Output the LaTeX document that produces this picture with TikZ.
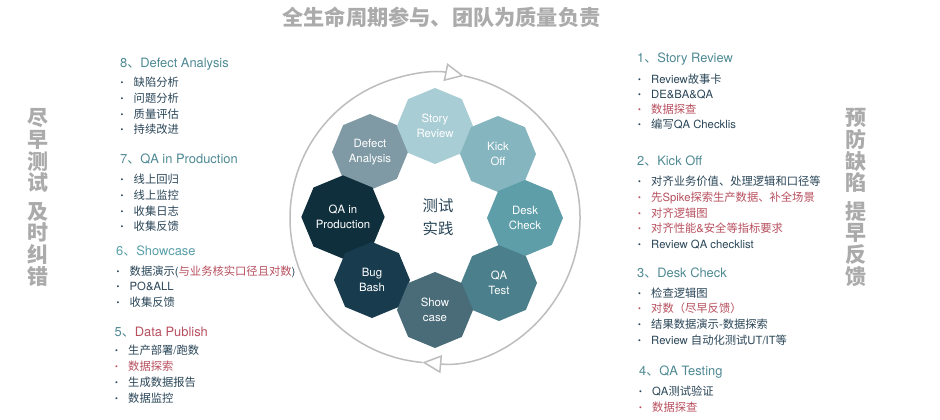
\documentclass[tikz,border=0pt]{standalone}
\usepackage{fontspec}
\setmainfont{TeX Gyre Heros}
\newfontfamily\cjk{Noto Sans CJK SC}
\usetikzlibrary{shapes.geometric,arrows.meta}
\definecolor{headteal}{HTML}{4F8A94}
\definecolor{headlight}{HTML}{5AA0AA}
\definecolor{textdark}{HTML}{2A4658}
\definecolor{textred}{HTML}{B8505F}
\definecolor{sidegray}{HTML}{ABABAB}
\definecolor{ringgray}{HTML}{BDBDBD}
\newcommand{\dotmark}{\makebox[13pt][l]{\raisebox{1.2pt}{\fontsize{8}{8}\selectfont\textbullet}}}
\tikzset{
  octa/.style={regular polygon,regular polygon sides=8,shape border rotate=22.5,minimum size=76pt,
    inner sep=0pt,outer sep=0pt,align=center,text=white,font=\fontsize{11.4}{15}\selectfont},
  head/.style={anchor=west,inner sep=0pt,text=headteal,text height=12pt,text depth=2pt,font=\fontsize{12.9}{15}\selectfont},
  item/.style={anchor=west,inner sep=0pt,text=textdark,text height=10pt,text depth=1.4pt,font=\fontsize{11.3}{14}\selectfont},
  itemred/.style={item,text=textred},
  side/.style={align=center,inner sep=0pt,text=sidegray,font=\fontsize{21}{21.6}\selectfont\cjk\bfseries},
  ringline/.style={draw=ringgray,line width=1.5pt,-{Triangle[open,length=19pt,width=18pt]}}
}
\begin{document}
\begin{tikzpicture}[x=1pt,y=1pt]
\path[use as bounding box,fill=white] (0,0) rectangle (940,-420);

\node[text=sidegray,inner sep=0pt,font=\fontsize{21.2}{21}\selectfont\cjk\bfseries] (title) at (441.5,-17) {全生命周期参与、团队为质量负责};
\node[side] (leftside) at (38,-197.5) {尽\\早\\测\\试\\[7pt]及\\时\\纠\\错};
\node[side] (rightside) at (856,-197.5) {预\\防\\缺\\陷\\[7pt]提\\早\\反\\馈};

% ring
\coordinate (hub) at (435,-218);
\draw[ringline] (hub) ++(265:145) arc [start angle=265,end angle=78.5,radius=145];
\draw[ringline] (hub) ++(78.5:145) arc [start angle=78.5,end angle=-95,radius=145];

% octagons
\node[octa,fill={rgb,255:red,127;green,154;blue,165}] (defect) at (370,-152) {Defect\\Analysis};
\node[octa,fill={rgb,255:red,169;green,205;blue,212}] (story) at (435,-126) {Story\\Review};
\node[octa,fill={rgb,255:red,133;green,181;blue,191}] (kick) at (498,-154) {Kick\\Off};
\node[octa,fill={rgb,255:red,94;green,158;blue,169}] (desk) at (525,-218) {Desk\\Check};
\node[octa,fill={rgb,255:red,75;green,127;blue,139}] (qatest) at (499,-283) {QA\\Test};
\node[octa,fill={rgb,255:red,16;green,47;blue,61}] (qaprod) at (343,-217) {QA in\\Production};
\node[octa,fill={rgb,255:red,24;green,60;blue,78}] (bug) at (372,-280) {Bug\\Bash};
\node[octa,fill={rgb,255:red,74;green,108;blue,121}] (show) at (435,-310) {Show\\case};
\node[align=center,inner sep=0pt,text=textdark,font=\fontsize{15.4}{23}\selectfont\cjk] (practice) at (438,-217) {测试\\实践};

% left lists
\node[head] (h8) at (120,-62) {8{\cjk 、}Defect Analysis};
\node[item] (a1) at (120.5,-82) {\dotmark{\cjk 缺陷分析}};
\node[item] (a2) at (120.5,-98) {\dotmark{\cjk 问题分析}};
\node[item] (a3) at (120.5,-114) {\dotmark{\cjk 质量评估}};
\node[item] (a4) at (120.5,-129.5) {\dotmark{\cjk 持续改进}};

\node[head] (h7) at (120,-158) {7{\cjk 、}QA in Production};
\node[item] (b1) at (120.5,-179) {\dotmark{\cjk 线上回归}};
\node[item] (b2) at (120.5,-195) {\dotmark{\cjk 线上监控}};
\node[item] (b3) at (120.5,-211) {\dotmark{\cjk 收集日志}};
\node[item] (b4) at (120.5,-226) {\dotmark{\cjk 收集反馈}};

\node[head,text=headlight] (h6) at (116,-250) {6{\cjk 、}Showcase};
\node[item] (c1) at (116.5,-271) {\dotmark{\cjk 数据演示}({\cjk\color{textred}与业务核实口径且对数}{\cjk})};
\node[item] (c2) at (116.5,-286) {\dotmark PO\&ALL};
\node[item] (c3) at (116.5,-302) {\dotmark{\cjk 收集反馈}};

\node[head] (h5) at (114.5,-331) {5{\cjk 、}\textcolor{textred}{Data Publish}};
\node[item] (d1) at (115,-350) {\dotmark{\cjk 生产部署}/{\cjk 跑数}};
\node[itemred] (d2) at (115,-366) {\dotmark{\cjk 数据探索}};
\node[item] (d3) at (115,-382) {\dotmark{\cjk 生成数据报告}};
\node[item] (d4) at (115,-398) {\dotmark{\cjk 数据监控}};

% right lists
\node[head] (h1) at (637,-58) {1{\cjk 、}Story Review};
\node[item] (e1) at (638,-79) {\dotmark Review{\cjk 故事卡}};
\node[item] (e2) at (638,-94.5) {\dotmark DE\&BA\&QA};
\node[itemred] (e3) at (638,-109) {\dotmark{\cjk 数据探查}};
\node[item] (e4) at (638,-124.5) {\dotmark{\cjk 编写}QA Checklis};

\node[head] (h2) at (637,-160.5) {2{\cjk 、}Kick Off};
\node[item] (f1) at (638,-181) {\dotmark{\cjk 对齐业务价值、处理逻辑和口径等}};
\node[itemred] (f2) at (638,-197) {\dotmark{\cjk 先}Spike{\cjk 探索生产数据、补全场景}};
\node[itemred] (f3) at (638,-213) {\dotmark{\cjk 对齐逻辑图}};
\node[itemred] (f4) at (638,-228.5) {\dotmark{\cjk 对齐性能}\&{\cjk 安全等指标要求}};
\node[item] (f5) at (638,-244) {\dotmark Review QA checklist};

\node[head] (h3) at (637,-272.5) {3{\cjk 、}Desk Check};
\node[item] (g1) at (638,-293) {\dotmark{\cjk 检查逻辑图}};
\node[itemred] (g2) at (638,-308.5) {\dotmark{\cjk 对数（尽早反馈）}};
\node[item] (g3) at (638,-324.5) {\dotmark{\cjk 结果数据演示}-{\cjk 数据探索}};
\node[item] (g4) at (638,-340) {\dotmark Review {\cjk 自动化测试}UT/IT{\cjk 等}};

\node[head] (h4) at (639,-370.5) {4{\cjk 、}QA Testing};
\node[item] (k1) at (639,-391) {\dotmark QA{\cjk 测试验证}};
\node[itemred] (k2) at (639,-407) {\dotmark{\cjk 数据探查}};
\end{tikzpicture}
\end{document}
